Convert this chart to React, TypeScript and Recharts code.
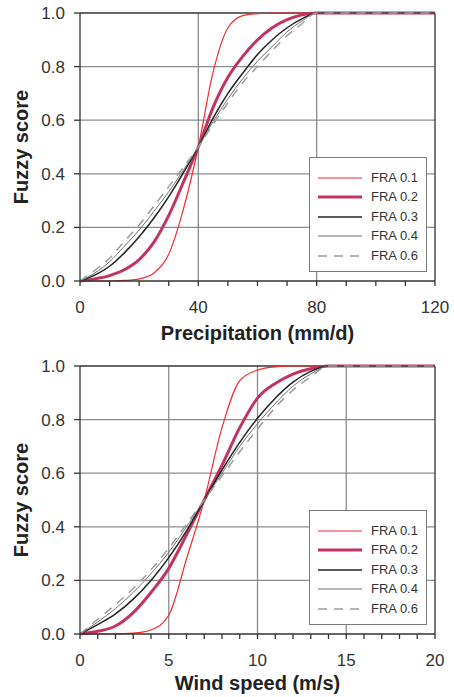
import { LineChart, Line, XAxis, YAxis, ReferenceLine } from "recharts";

const FONT = '"Liberation Sans", Arial, Helvetica, sans-serif';

// precipitation panel (mm/d)
const precipX = [0, 5, 10, 15, 20, 25, 30, 35, 40, 45, 50, 55, 60, 65, 70, 75, 80, 120];
const precipFra01 = [0, 0, 0, 0.002, 0.008, 0.03, 0.1, 0.27, 0.5, 0.78, 0.945, 0.99, 0.998, 1, 1, 1, 1, 1];
const precipFra02 = [0, 0.008, 0.02, 0.042, 0.08, 0.145, 0.245, 0.37, 0.5, 0.648, 0.76, 0.838, 0.9, 0.945, 0.975, 0.993, 1, 1];
const precipFra03 = [0, 0.022, 0.055, 0.105, 0.165, 0.235, 0.315, 0.405, 0.5, 0.608, 0.7, 0.775, 0.845, 0.9, 0.945, 0.978, 1, 1];
const precipFra04 = [0, 0.03, 0.072, 0.13, 0.19, 0.26, 0.333, 0.415, 0.5, 0.595, 0.68, 0.755, 0.82, 0.875, 0.93, 0.97, 1, 1];
const precipFra06 = [0, 0.04, 0.085, 0.148, 0.209, 0.28, 0.352, 0.425, 0.5, 0.585, 0.665, 0.74, 0.8, 0.86, 0.915, 0.96, 1, 1];
const precipTicks = [0, 10, 20, 30, 40, 50, 60, 70, 80, 90, 100, 110, 120];
const precipLabelled = [0, 40, 80, 120];
const precipGrid = [40, 80];

// wind speed panel (m/s)
const windX = [0, 1, 2, 3, 4, 5, 6, 7, 8, 9, 10, 11, 12, 13, 14, 20];
const windFra01 = [0, 0, 0, 0.003, 0.015, 0.07, 0.28, 0.5, 0.77, 0.945, 0.985, 0.997, 1, 1, 1, 1];
const windFra02 = [0, 0.01, 0.03, 0.08, 0.155, 0.245, 0.37, 0.5, 0.63, 0.77, 0.88, 0.935, 0.97, 0.99, 1, 1];
const windFra03 = [0, 0.035, 0.075, 0.13, 0.2, 0.285, 0.385, 0.5, 0.612, 0.715, 0.805, 0.88, 0.94, 0.98, 1, 1];
const windFra04 = [0, 0.045, 0.095, 0.155, 0.225, 0.305, 0.4, 0.5, 0.6, 0.7, 0.785, 0.86, 0.925, 0.97, 1, 1];
const windFra06 = [0, 0.055, 0.11, 0.17, 0.24, 0.32, 0.41, 0.5, 0.59, 0.68, 0.765, 0.845, 0.91, 0.96, 1, 1];
const windTicks = [0, 1, 2, 3, 4, 5, 6, 7, 8, 9, 10, 11, 12, 13, 14, 15, 16, 17, 18, 19, 20];
const windLabelled = [0, 5, 10, 15, 20];
const windGrid = [5, 10, 15];

const yTicks = [0, 0.2, 0.4, 0.6, 0.8, 1];
const yGrid = [0.2, 0.4, 0.6, 0.8];

const seriesNames = ["FRA 0.1", "FRA 0.2", "FRA 0.3", "FRA 0.4", "FRA 0.6"];
const seriesStyle = [
  { key: "f01", color: "#f42c2c", width: 1.2, dash: undefined },
  { key: "f02", color: "#c2345f", width: 3, dash: undefined },
  { key: "f03", color: "#222222", width: 1.5, dash: undefined },
  { key: "f04", color: "#707070", width: 1, dash: undefined },
  { key: "f06", color: "#9c9c9c", width: 1.5, dash: "9 7" },
];

const buildRows = (xs: number[], cols: number[][]) =>
  xs.map((x, i) => ({
    x,
    f01: cols[0][i],
    f02: cols[1][i],
    f03: cols[2][i],
    f04: cols[3][i],
    f06: cols[4][i],
  }));

const precipRows = buildRows(precipX, [precipFra01, precipFra02, precipFra03, precipFra04, precipFra06]);
const windRows = buildRows(windX, [windFra01, windFra02, windFra03, windFra04, windFra06]);

const AXIS = "#333333";
const GRID = "#8c8c8c";

type PanelProps = {
  rows: any[];
  xMax: number;
  ticks: number[];
  labelled: number[];
  grid: number[];
  height: number;
  top: number;
  marginTop: number;
  marginBottom: number;
};

function Panel({ rows, xMax, ticks, labelled, grid, height, top, marginTop, marginBottom }: PanelProps) {
  return (
    <LineChart
      width={454}
      height={height}
      data={rows}
      margin={{ top: marginTop, right: 19, bottom: marginBottom, left: 20 }}
      style={{ position: "absolute", left: 0, top }}
    >
      <XAxis
        dataKey="x"
        type="number"
        domain={[0, xMax]}
        ticks={ticks}
        interval={0}
        tickFormatter={(v: number) => (labelled.includes(v) ? String(v) : "")}
        tickSize={5}
        tickMargin={15}
        height={30}
        stroke={AXIS}
        strokeWidth={1.3}
        tick={{ fill: AXIS, fontSize: 17, fontFamily: FONT }}
      />
      <YAxis
        type="number"
        domain={[0, 1]}
        ticks={yTicks}
        interval={0}
        tickFormatter={(v: number) => v.toFixed(1)}
        width={60}
        tickSize={6}
        tickMargin={9}
        stroke={AXIS}
        strokeWidth={1.3}
        tick={{ fill: AXIS, fontSize: 17, fontFamily: FONT }}
      />
      {yGrid.map((v) => (
        <ReferenceLine key={"h" + v} y={v} stroke={GRID} strokeWidth={1.3} />
      ))}
      {grid.map((v) => (
        <ReferenceLine key={"v" + v} x={v} stroke={GRID} strokeWidth={1.3} />
      ))}
      <ReferenceLine y={1} stroke={AXIS} strokeWidth={1.3} />
      <ReferenceLine x={xMax} stroke={AXIS} strokeWidth={1.3} />
      {seriesStyle.map((s) => (
        <Line
          key={s.key}
          dataKey={s.key}
          type="monotone"
          stroke={s.color}
          strokeWidth={s.width}
          strokeDasharray={s.dash}
          dot={false}
          activeDot={false}
          isAnimationActive={false}
        />
      ))}
    </LineChart>
  );
}

function LegendBox({ top }: { top: number }) {
  return (
    <div
      style={{
        position: "absolute",
        left: 309,
        top,
        width: 116,
        height: 113,
        border: "1px solid #7a7a7a",
        background: "#fff",
      }}
    >
      {seriesNames.map((name, i) => {
        const s = seriesStyle[i];
        const cy = 20 + i * 19.4;
        return (
          <div key={name} style={{ position: "absolute", left: 0, top: cy - 9, height: 18, width: 116 }}>
            <svg width={56} height={18} style={{ position: "absolute", left: 0, top: 0 }}>
              <line x1={8} x2={52} y1={9} y2={9} stroke={s.color} strokeWidth={s.width} strokeDasharray={s.dash} />
            </svg>
            <span
              style={{
                position: "absolute",
                left: 61,
                top: 0,
                lineHeight: "18px",
                fontSize: 13,
                color: AXIS,
                fontFamily: FONT,
                whiteSpace: "nowrap",
              }}
            >
              {name}
            </span>
          </div>
        );
      })}
    </div>
  );
}

const titleStyle = {
  position: "absolute" as const,
  fontFamily: FONT,
  fontWeight: "bold" as const,
  fontSize: 20,
  lineHeight: "24px",
  color: "#222",
  textAlign: "center" as const,
  whiteSpace: "nowrap" as const,
};

export default function App() {
  return (
    <div style={{ position: "absolute", left: 0, top: 0, width: 454, height: 697, background: "#fff" }}>
      <Panel
        rows={precipRows}
        xMax={120}
        ticks={precipTicks}
        labelled={precipLabelled}
        grid={precipGrid}
        height={345}
        top={0}
        marginTop={13}
        marginBottom={34}
      />
      <Panel
        rows={windRows}
        xMax={20}
        ticks={windTicks}
        labelled={windLabelled}
        grid={windGrid}
        height={352}
        top={345}
        marginTop={21}
        marginBottom={33}
      />
      <LegendBox top={157} />
      <LegendBox top={510} />
      <div style={{ ...titleStyle, left: 80, width: 355, top: 321 }}>Precipitation (mm/d)</div>
      <div style={{ ...titleStyle, left: 80, width: 355, top: 671 }}>Wind speed (m/s)</div>
      <div style={{ ...titleStyle, left: -79, width: 200, top: 135, transform: "rotate(-90deg)" }}>Fuzzy score</div>
      <div style={{ ...titleStyle, left: -79, width: 200, top: 488, transform: "rotate(-90deg)" }}>Fuzzy score</div>
    </div>
  );
}
